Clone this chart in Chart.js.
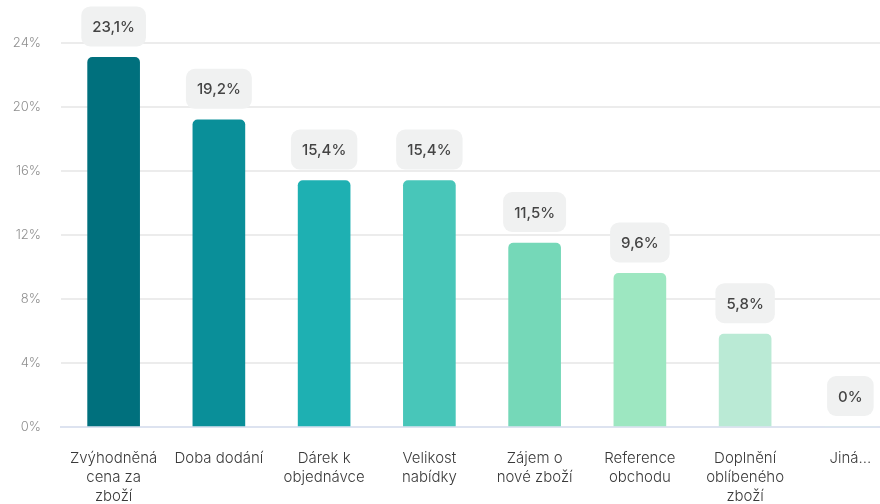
<!DOCTYPE html>
<html>
<head>
<meta charset="utf-8">
<script src="https://cdn.jsdelivr.net/npm/chart.js@4/dist/chart.umd.min.js"></script>
<style>
  html, body { margin: 0; padding: 0; background: #fff; overflow: hidden; }
  #wrap { width: 903px; height: 530px; position: relative; }
</style>
</head>
<body>
<div id="wrap"><canvas id="myChart"></canvas></div>
<script>
// hodnoty grafu
const labels = [
  ['Zvýhodněná', 'cena za', 'zboží'],
  'Doba dodání',
  ['Dárek k', 'objednávce'],
  ['Velikost', 'nabídky'],
  ['Zájem o', 'nové zboží'],
  ['Reference', 'obchodu'],
  ['Doplnění', 'oblíbeného', 'zboží'],
  'Jiná...'
];
const hodnoty = [23.1, 19.2, 15.4, 15.4, 11.5, 9.6, 5.8, 0];
const barvy = ['#00707d', '#0a8f99', '#1eb0b2', '#48c6b9', '#75d8b8', '#9de7c1', '#baead5', '#d6f2e6'];
const osaY = [0, 4, 8, 12, 16, 20, 24];

function formatPct(v) {
  return String(v).replace('.', ',') + '%';
}

// popisky nad sloupci (seda zaoblena bublina)
const bubliny = {
  id: 'bubliny',
  afterDatasetsDraw(chart) {
    const ctx = chart.ctx;
    const meta = chart.getDatasetMeta(0);
    ctx.save();
    ctx.font = '500 15px Inter';
    ctx.textAlign = 'center';
    ctx.textBaseline = 'middle';
    meta.data.forEach((bar, i) => {
      const text = formatPct(hodnoty[i]);
      const w = ctx.measureText(text).width + 22;
      const h = 40;
      const x = bar.x - w / 2;
      const y = bar.y - 11 - h;
      ctx.fillStyle = '#f0f1f1';
      ctx.beginPath();
      ctx.roundRect(x, y, w, h, 9);
      ctx.fill();
      ctx.fillStyle = '#444';
      ctx.fillText(text, bar.x, y + h / 2 + 1);
    });
    ctx.restore();
  }
};

const data = {
  labels: labels,
  datasets: [{
    label: 'Odpovědi',
    data: hodnoty,
    backgroundColor: barvy,
    borderRadius: 5,
    barThickness: 52
  }]
};

const config = {
  type: 'bar',
  data: data,
  plugins: [bubliny],
  options: {
    responsive: true,
    maintainAspectRatio: false,
    animation: false,
    layout: {
      padding: { top: 43, right: 0, bottom: 0, left: 0 }
    },
    scales: {
      x: {
        grid: { display: false, drawTicks: false },
        border: { display: true, color: '#dde3f0', width: 2 },
        ticks: {
          color: '#3a3a3a',
          maxRotation: 0,
          autoSkip: false,
          padding: 22,
          font: { family: 'Inter', size: 15, weight: 300, lineHeight: 1.27 }
        },
        afterFit(scale) { scale.height = 103; }
      },
      y: {
        min: 0,
        max: 24,
        border: { display: false },
        grid: {
          drawTicks: false,
          color: ctx => ctx.tick && ctx.tick.value === 0 ? '#dde3f0' : '#ececec',
          lineWidth: 2
        },
        ticks: {
          stepSize: 4,
          padding: 20,
          color: '#8f8f8f',
          font: { family: 'Inter', size: 13, weight: 300 },
          callback: v => osaY.includes(v) ? v + '%' : ''
        },
        afterFit(scale) { scale.width = 61; }
      }
    },
    plugins: {
      legend: { display: false },
      tooltip: { enabled: false }
    }
  }
};

const myChart = new Chart(document.getElementById('myChart'), config);
</script>
</body>
</html>
